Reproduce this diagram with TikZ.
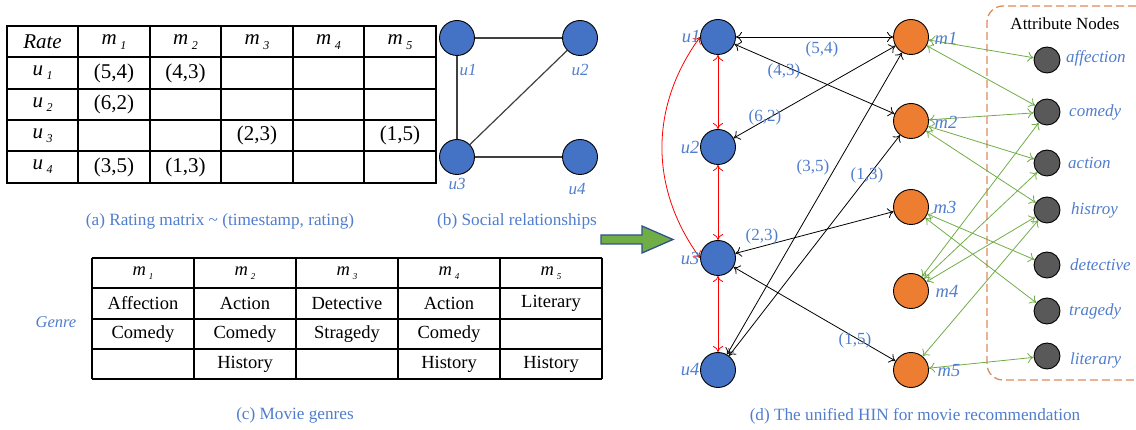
\documentclass[tikz,border=0pt]{standalone}
\usepackage{fontspec}
\setmainfont{Liberation Serif}
\usetikzlibrary{arrows.meta}
\definecolor{userblue}{RGB}{68,114,196}
\definecolor{movieorange}{RGB}{237,125,49}
\definecolor{attrgray}{RGB}{89,89,89}
\definecolor{linkgreen}{RGB}{112,173,71}
\definecolor{textblue}{RGB}{80,125,205}
\definecolor{boxorange}{RGB}{222,140,90}
\definecolor{arrowblue}{RGB}{47,82,143}
\newcommand{\msub}[3][12]{\textit{#2}\,\raisebox{-0.45ex}{\fontsize{#1}{#1}\selectfont\textit{#3}}}
\tikzset{
         grid/.style = { line width=1.3pt, line cap=rect },
         cell/.style = { font=\fontsize{21}{24}\selectfont, inner sep=0pt },
        gcell/.style = { font=\fontsize{18.5}{22}\selectfont, inner sep=0pt },
      caption/.style = { text=textblue, font=\fontsize{17.2}{20}\selectfont, inner sep=0pt },
      namelbl/.style = { text=textblue, font=\fontsize{18.5}{20}\selectfont\itshape, inner sep=0pt },
      attrlbl/.style = { text=textblue, font=\fontsize{17}{20}\selectfont\itshape, inner sep=0pt, anchor=west },
      ratelbl/.style = { text=textblue, font=\fontsize{17}{20}\selectfont, inner sep=0pt },
     usernode/.style = { circle, draw=black, fill=userblue, minimum size=35pt, inner sep=0pt, line width=0.9pt },
    movienode/.style = { circle, draw=black, fill=movieorange, minimum size=35pt, inner sep=0pt, line width=0.9pt },
     attrnode/.style = { circle, draw=black, fill=attrgray, minimum size=26pt, inner sep=0pt, line width=0.9pt },
       social/.style = { draw=black!75, line width=1.2pt },
       rating/.style = { <->, black, line width=0.8pt },
        trust/.style = { <->, red, line width=0.8pt },
      hasattr/.style = { <->, linkgreen, line width=0.8pt },
  >={To[length=6pt,width=10pt]}
}

\begin{document}
\begin{tikzpicture}[x=1pt, y=-1pt]
  \useasboundingbox (0,0) rectangle (1136,430);

  % (a) rating matrix
  \foreach \x in {7,78,150,221,293,364,436} \draw[grid] (\x,26) -- (\x,183);
  \foreach \y in {26,57,89,120,151,183} \draw[grid] (7,\y) -- (436,\y);

  \node[cell] (rate) at (42.5,42) {\textit{Rate}};
  \foreach \i/\x in {1/114,2/185.5,3/257,4/328.5,5/400}
    \node[cell] (rm\i) at (\x,42) {\msub{m}{\i}};
  \foreach \i/\y in {1/73,2/104.5,3/135.5,4/167}
    \node[cell] (ru\i) at (42.5,\y) {\msub{u}{\i}};

  \node[cell] (r11) at (114,73)    {(5,4)};
  \node[cell] (r12) at (185.5,73)  {(4,3)};
  \node[cell] (r21) at (114,104.5) {(6,2)};
  \node[cell] (r33) at (257,135.5) {(2,3)};
  \node[cell] (r35) at (400,135.5) {(1,5)};
  \node[cell] (r41) at (114,167)   {(3,5)};
  \node[cell] (r42) at (185.5,167) {(1,3)};

  \node[caption] (capa) at (220,221) {(a) Rating matrix \textasciitilde\ (timestamp, rating)};

  % (b) social relationships
  \node[usernode] (s1) at (457,38)  {};
  \node[usernode] (s2) at (580,38)  {};
  \node[usernode] (s3) at (457,157) {};
  \node[usernode] (s4) at (580,157) {};
  \draw[social] (s1) -- (s2);
  \draw[social] (s1) -- (s3);
  \draw[social] (s3) -- (s2);
  \draw[social] (s3) -- (s4);
  \node[namelbl, font=\fontsize{17}{20}\selectfont\itshape] (s1l) at (468,70)  {u1};
  \node[namelbl, font=\fontsize{17}{20}\selectfont\itshape] (s2l) at (580,70)  {u2};
  \node[namelbl, font=\fontsize{17}{20}\selectfont\itshape] (s3l) at (457,184) {u3};
  \node[namelbl, font=\fontsize{17}{20}\selectfont\itshape] (s4l) at (577,189) {u4};

  \node[caption] (capb) at (517,221) {(b) Social relationships};

  % (c) movie genres
  \foreach \x in {92,194,296,398,500,602} \draw[line width=1.2pt] (\x,258) -- (\x,379);
  \foreach \y in {258,288,319,349,379} \draw[line width=1.2pt] (92,\y) -- (602,\y);

  \foreach \i/\x in {1/143,2/245,3/347,4/449,5/551}
    \node[gcell] (gm\i) at (\x,273) {\msub[9]{m}{\i}};

  \node[gcell] (g11) at (143,303.5) {Affection};
  \node[gcell] (g12) at (245,303.5) {Action};
  \node[gcell] (g13) at (347,303.5) {Detective};
  \node[gcell] (g14) at (449,303.5) {Action};
  \node[gcell] (g15) at (551,303.5) {Literary};
  \node[gcell] (g21) at (143,334)   {Comedy};
  \node[gcell] (g22) at (245,334)   {Comedy};
  \node[gcell] (g23) at (347,334)   {Stragedy};
  \node[gcell] (g24) at (449,334)   {Comedy};
  \node[gcell] (g32) at (245,364)   {History};
  \node[gcell] (g34) at (449,364)   {History};
  \node[gcell] (g35) at (551,364)   {History};

  \node[namelbl, font=\fontsize{16.5}{20}\selectfont\itshape] (genre) at (56,322) {Genre};
  \node[caption] (capc) at (295,415) {(c) Movie genres};

  % arrow to the HIN
  \draw[fill=linkgreen, draw=arrowblue, line width=1.3pt, line join=miter]
    (601,235) -- (642,235) -- (642,226) -- (673,239.5) -- (642,253) -- (642,244) -- (601,244) -- cycle;

  % (d) unified HIN
  \draw[boxorange, line width=1.3pt, dash pattern=on 8pt off 4pt, rounded corners=16pt]
    (1136,6) -- (987,6) -- (987,380) -- (1136,380);
  \node[inner sep=0pt, font=\fontsize{17}{20}\selectfont] (attrtitle) at (1065,24) {Attribute Nodes};

  \node[usernode] (u1) at (718,37)  {};
  \node[usernode] (u2) at (718,147) {};
  \node[usernode] (u3) at (718,258) {};
  \node[usernode] (u4) at (718,370) {};

  \node[movienode] (m1) at (911,37)  {};
  \node[movienode] (m2) at (911,121) {};
  \node[movienode] (m3) at (911,207) {};
  \node[movienode] (m4) at (911,291) {};
  \node[movienode] (m5) at (911,370) {};

  \node[attrnode] (affection) at (1047,60)  {};
  \node[attrnode] (comedy)    at (1047,112) {};
  \node[attrnode] (action)    at (1047,163) {};
  \node[attrnode] (history)   at (1047,210) {};
  \node[attrnode] (detective) at (1047,265) {};
  \node[attrnode] (tragedy)   at (1047,311) {};
  \node[attrnode] (literary)  at (1047,356) {};

  % user-user links
  \draw[trust] (u1) -- (u2);
  \draw[trust] (u2) -- (u3);
  \draw[trust] (u3) -- (u4);
  \draw[trust] (u3.west) to[bend left=36] (u1.west);

  % ratings
  \draw[rating] (u1) -- (m1);
  \draw[rating] (u1) -- (m2);
  \draw[rating] (u2) -- (m1);
  \draw[rating] (u4) -- (m1);
  \draw[rating] (u4) -- (m2);
  \draw[rating] (u3) -- (m3);
  \draw[rating] (u3) -- (m5);

  % genres
  \draw[hasattr] (m1) -- (affection);
  \draw[hasattr] (m1) -- (comedy);
  \draw[hasattr] (m2) -- (comedy);
  \draw[hasattr] (m2) -- (action);
  \draw[hasattr] (m2) -- (history);
  \draw[hasattr] (m3) -- (detective);
  \draw[hasattr] (m3) -- (tragedy);
  \draw[hasattr] (m4) -- (comedy);
  \draw[hasattr] (m4) -- (action);
  \draw[hasattr] (m4) -- (history);
  \draw[hasattr] (m5) -- (history);
  \draw[hasattr] (m5) -- (literary);

  % rating labels
  \node[ratelbl] (l54) at (822,49)  {(5,4)};
  \node[ratelbl] (l43) at (784,71)  {(4,3)};
  \node[ratelbl] (l62) at (765,117) {(6,2)};
  \node[ratelbl] (l35) at (813,167) {(3,5)};
  \node[ratelbl] (l13) at (867,175) {(1,3)};
  \node[ratelbl] (l23) at (762,236) {(2,3)};
  \node[ratelbl] (l15) at (855,340) {(1,5)};

  % names
  \node[namelbl] (u1l) at (691,37)  {u1};
  \node[namelbl] (u2l) at (690,147) {u2};
  \node[namelbl] (u3l) at (690,258) {u3};
  \node[namelbl] (u4l) at (690,370) {u4};

  \node[namelbl] (m1l) at (946,38)  {m1};
  \node[namelbl] (m2l) at (946,122) {m2};
  \node[namelbl] (m3l) at (945,207) {m3};
  \node[namelbl] (m4l) at (947,291) {m4};
  \node[namelbl] (m5l) at (949,371) {m5};

  \node[attrlbl] (affl) at (1066,58)  {affection};
  \node[attrlbl] (coml) at (1069,112) {comedy};
  \node[attrlbl] (actl) at (1068,163) {action};
  \node[attrlbl] (hisl) at (1071,210) {histroy};
  \node[attrlbl] (detl) at (1070,265) {detective};
  \node[attrlbl] (tral) at (1069,311) {tragedy};
  \node[attrlbl] (litl) at (1070,360) {literary};

  \node[caption] (capd) at (915,416) {(d) The unified HIN for movie recommendation};
\end{tikzpicture}
\end{document}
